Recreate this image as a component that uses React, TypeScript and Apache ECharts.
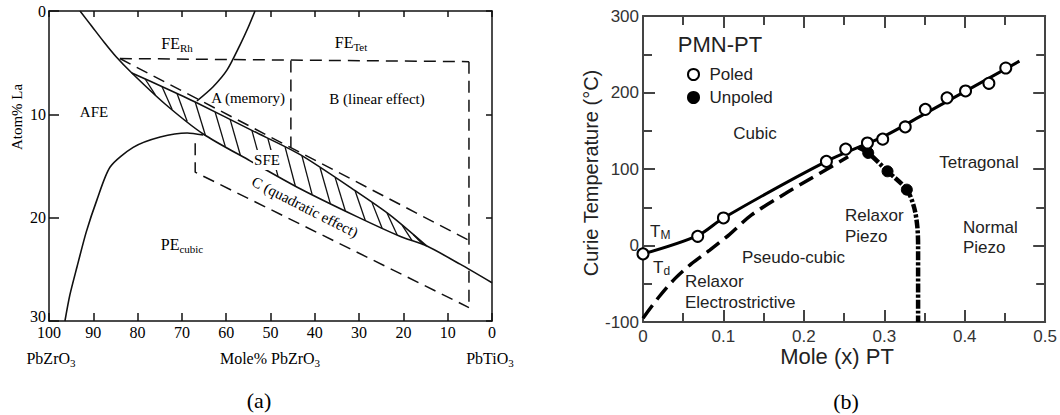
import React, { useEffect, useRef } from "react";
import * as echarts from "echarts";

// ---------- Panel (a): PLZT phase diagram ----------
// [Mole% PbZrO3, Atom% La]
const aLowerBoundary = [
  [93, 0], [90.3, 1.5], [87.6, 3.0], [84.9, 4.4], [81.3, 6.0], [73.8, 9.0], [65.2, 11.9],
  [54.6, 14.5], [43.3, 17.2], [30.5, 19.9], [20.8, 21.8], [14.7, 22.75], [7.2, 24.5], [0, 26.3],
];
const aUpperHatch = [
  [81.3, 6.0], [73.8, 7.45], [67.0, 8.81], [54.0, 11.6], [43.3, 13.9], [30.5, 17.5], [23.0, 19.75], [14.7, 22.75],
];
const aRhTetBoundary = [[53.5, 0], [55.1, 1.65], [56.9, 3.3], [59.8, 5.7], [63.0, 7.35], [66.6, 8.7]];
const aDomeBoundary = [
  [96.4, 30], [95.3, 27.5], [93.7, 24.8], [91.6, 21.4], [89.2, 18.3], [86.2, 15.1], [81.0, 13.2],
  [74.9, 12.2], [68.8, 11.8], [65.2, 12.0],
];
const aDashTop = [[84, 4.6], [5.2, 4.9]];
const aDashRight = [[5.2, 4.9], [5.2, 28.7]];
const aDashUpper = [[84, 4.6], [5.2, 22.2]];
const aDashMid = [[45.4, 4.8], [45.4, 13.2]];
const aDashC = [[67, 12.8], [67, 15.6], [5.2, 28.7]];
const aHatchTops = [78.3, 74.5, 71.1, 67.0, 62.5, 59.1, 54.2, 50.6, 46.7, 42.9, 38.8, 35.4, 30.9, 27.1, 23.7, 20.3, 17.8];

// ---------- Panel (b): PMN-PT ----------
// [Mole (x) PT, Temperature °C]
const bTmLine = [[0, -11], [0.068, 13], [0.1, 36], [0.228, 110], [0.3, 143], [0.35, 172], [0.468, 241]];
const bPoled = [
  [0, -11], [0.068, 12], [0.1, 36], [0.228, 110], [0.252, 126], [0.279, 134], [0.298, 139],
  [0.326, 155], [0.351, 178], [0.378, 193], [0.401, 202], [0.43, 212], [0.451, 232],
];
const bUnpoled = [[0.28, 121], [0.304, 97], [0.328, 73]];
const bUnpoledCurve = [[0.268, 128], [0.28, 121], [0.304, 97], [0.328, 73], [0.337, 50], [0.341, 25], [0.342, 0], [0.342, -100]];
const bTdLine = [[0, -95], [0.02, -67], [0.04, -43], [0.06, -24], [0.083, -6], [0.107, 14], [0.135, 40], [0.177, 68], [0.206, 86], [0.234, 103], [0.255, 116]];

const A_FONT = "Liberation Serif";
const B_FONT = "Liberation Sans";
const A_HATCH_SHIFT = 2.3;

function interp(arr: number[][], m: number): number {
  for (let i = 0; i < arr.length - 1; i++) {
    const [m0, v0] = arr[i];
    const [m1, v1] = arr[i + 1];
    if ((m <= m0 && m >= m1) || (m >= m0 && m <= m1)) {
      const t = m1 === m0 ? 0 : (m - m0) / (m1 - m0);
      return v0 + t * (v1 - v0);
    }
  }
  return arr[arr.length - 1][1];
}

const richA = {
  s: { fontSize: 11, fontFamily: A_FONT, lineHeight: 9, verticalAlign: "bottom", fill: "#000" },
};
const richB = {
  s: { fontSize: 12, fontFamily: B_FONT, lineHeight: 10, verticalAlign: "bottom", fill: "#222" },
};

function txt(text: string, x: number, y: number, o: any = {}) {
  const align = o.align || "center";
  const style: any = {
    text,
    fill: o.color || "#000",
    fontFamily: o.font || A_FONT,
    fontSize: o.size || 15,
    lineHeight: o.lh || 20,
    align,
    verticalAlign: "middle",
    textAlign: align,
    textVerticalAlign: "middle",
    rich: o.rich,
  };
  if (o.bg) {
    style.backgroundColor = o.bg;
    style.padding = [0, 1];
  }
  return {
    type: "text",
    x,
    y,
    rotation: o.rotation || 0,
    silent: true,
    z: 100,
    style,
  };
}

export default function App() {
  const ref = useRef<HTMLDivElement>(null);
  useEffect(() => {
    if (!ref.current) return;
    const chart = echarts.init(ref.current, null, { renderer: "svg" });
    const solidA = { color: "#111", width: 1.6 };
    const dashA = { color: "#111", width: 1.5, type: [12, 7] };
    const lineA = (name: string, data: number[][], style: any, smooth: number = 0.25) => ({
      name,
      type: "line",
      xAxisIndex: 0,
      yAxisIndex: 0,
      data,
      smooth,
      symbol: "none",
      silent: true,
      lineStyle: style,
    });
    const axisA = { lineStyle: { color: "#111", width: 1.5 }, onZero: false };
    const axisB = { lineStyle: { color: "#444", width: 2 }, onZero: false };
    const tickB = { inside: true, length: 12, lineStyle: { color: "#444", width: 2 } };
    const minorB = { show: true, splitNumber: 2, length: 9, lineStyle: { color: "#444", width: 2 } };

    const option: any = {
      animation: false,
      backgroundColor: "#fff",
      grid: [
        { left: 49, top: 11, width: 443, height: 310 },
        { left: 643, top: 16, width: 406, height: 306 },
      ],
      legend: {
        orient: "vertical",
        left: 682,
        top: 61,
        itemWidth: 22,
        itemHeight: 11,
        itemGap: 6,
        selectedMode: false,
        data: ["Poled", "Unpoled"],
        textStyle: { fontFamily: B_FONT, fontSize: 17, color: "#222" },
      },
      xAxis: [
        {
          gridIndex: 0, type: "value", min: 0, max: 100, interval: 10, inverse: true, position: "bottom",
          axisLine: axisA, axisTick: { inside: true, length: 8, lineStyle: { color: "#111", width: 1.5 } },
          axisLabel: { fontFamily: A_FONT, fontSize: 16, lineHeight: 13, color: "#000", margin: 5, showMinLabel: true, showMaxLabel: true },
          splitLine: { show: false },
        },
        {
          gridIndex: 0, type: "value", min: 0, max: 100, interval: 10, inverse: true, position: "top",
          axisLine: axisA, axisTick: { inside: true, length: 6, lineStyle: { color: "#111", width: 1.5 } },
          axisLabel: { show: false }, splitLine: { show: false },
        },
        {
          gridIndex: 1, type: "value", min: 0, max: 0.5, interval: 0.1, position: "bottom",
          axisLine: axisB, axisTick: tickB, minorTick: minorB,
          axisLabel: { fontFamily: B_FONT, fontSize: 17, lineHeight: 14, color: "#333", margin: 7, showMinLabel: true, showMaxLabel: true },
          splitLine: { show: false }, minorSplitLine: { show: false },
        },
        {
          gridIndex: 1, type: "value", min: 0, max: 0.5, interval: 0.1, position: "top",
          axisLine: axisB, axisTick: tickB, minorTick: minorB,
          axisLabel: { show: false }, splitLine: { show: false }, minorSplitLine: { show: false },
        },
      ],
      yAxis: [
        {
          gridIndex: 0, type: "value", min: 0, max: 30, interval: 10, inverse: true, position: "left",
          axisLine: axisA, axisTick: { inside: true, length: 10, lineStyle: { color: "#111", width: 1.5 } },
          axisLabel: {
            fontFamily: A_FONT, fontSize: 16, lineHeight: 12, color: "#000", margin: 3, showMinLabel: true, showMaxLabel: true,
            formatter: (v: number) => (v === 30 ? "{up|30}" : String(v)),
            rich: { up: { fontFamily: A_FONT, fontSize: 16, lineHeight: 12, color: "#000", padding: [0, 0, 10, 0] } },
          },
          splitLine: { show: false },
        },
        {
          gridIndex: 0, type: "value", min: 0, max: 30, interval: 10, inverse: true, position: "right",
          axisLine: axisA, axisTick: { inside: true, length: 6, lineStyle: { color: "#111", width: 1.5 } },
          axisLabel: { show: false }, splitLine: { show: false },
        },
        {
          gridIndex: 1, type: "value", min: -100, max: 300, interval: 100, position: "left",
          axisLine: axisB, axisTick: tickB, minorTick: minorB,
          axisLabel: { fontFamily: B_FONT, fontSize: 17, lineHeight: 14, color: "#333", margin: 4, showMinLabel: true, showMaxLabel: true },
          splitLine: { show: false }, minorSplitLine: { show: false },
        },
        {
          gridIndex: 1, type: "value", min: -100, max: 300, interval: 100, position: "right",
          axisLine: axisB, axisTick: tickB, minorTick: minorB,
          axisLabel: { show: false }, splitLine: { show: false }, minorSplitLine: { show: false },
        },
      ],
      series: [
        lineA("FE/AFE/SFE boundary", aLowerBoundary, solidA),
        lineA("SFE upper boundary", aUpperHatch, solidA),
        lineA("FE Rh/Tet boundary", aRhTetBoundary, solidA),
        lineA("AFE/PE boundary", aDomeBoundary, solidA),
        lineA("dash top", aDashTop, dashA, 0),
        lineA("dash right", aDashRight, dashA, 0),
        lineA("dash upper", aDashUpper, dashA, 0),
        lineA("dash mid", aDashMid, dashA, 0),
        lineA("dash C", aDashC, dashA, 0),
        {
          name: "SFE hatch",
          type: "custom",
          xAxisIndex: 0,
          yAxisIndex: 0,
          silent: true,
          encode: { x: 0, y: 1 },
          data: aHatchTops.map((m) => [m, interp(aUpperHatch, m)]),
          renderItem: (params: any, api: any) => {
            const mTop = api.value(0);
            const mBot = mTop - A_HATCH_SHIFT;
            const p1 = api.coord([mTop, interp(aUpperHatch, mTop)]);
            const p2 = api.coord([mBot, interp(aLowerBoundary, mBot)]);
            return {
              type: "line",
              shape: { x1: p1[0], y1: p1[1], x2: p2[0], y2: p2[1] },
              style: { stroke: "#111", lineWidth: 1.3 },
            };
          },
        },
        {
          name: "T_M",
          type: "line",
          xAxisIndex: 2,
          yAxisIndex: 2,
          data: bTmLine,
          smooth: 0.3,
          symbol: "none",
          silent: true,
          lineStyle: { color: "#000", width: 3 },
        },
        {
          name: "T_d",
          type: "line",
          xAxisIndex: 2,
          yAxisIndex: 2,
          data: bTdLine,
          smooth: 0.3,
          symbol: "none",
          silent: true,
          lineStyle: { color: "#000", width: 3.5, type: [16, 7] },
        },
        {
          name: "Unpoled boundary",
          type: "line",
          xAxisIndex: 2,
          yAxisIndex: 2,
          data: bUnpoledCurve,
          smooth: 0.3,
          symbol: "none",
          silent: true,
          lineStyle: { color: "#000", width: 4.5, type: [9, 2, 3, 2] },
        },
        {
          name: "Unpoled",
          type: "scatter",
          xAxisIndex: 2,
          yAxisIndex: 2,
          data: bUnpoled,
          symbol: "circle",
          symbolSize: 11,
          itemStyle: { color: "#000", borderColor: "#000", borderWidth: 1, opacity: 1 },
          z: 5,
        },
        {
          name: "Poled",
          type: "scatter",
          xAxisIndex: 2,
          yAxisIndex: 2,
          data: bPoled,
          symbol: "circle",
          symbolSize: 11,
          itemStyle: { color: "#fff", borderColor: "#000", borderWidth: 2, opacity: 1 },
          z: 6,
        },
      ],
      graphic: [
        // panel (a)
        txt("FE{s|Rh}", 177, 43, { rich: richA, size: 16 }),
        txt("FE{s|Tet}", 351, 42, { rich: richA, size: 16 }),
        txt("AFE", 94, 112, { size: 15 }),
        txt("A (memory)", 248, 98, { size: 15 }),
        txt("B (linear effect)", 377, 99, { size: 15 }),
        txt("SFE", 267, 160, { size: 15, bg: "#fff" }),
        txt("C (quadratic effect)", 305, 207, { size: 15, rotation: (-27 * Math.PI) / 180 }),
        txt("PE{s|cubic}", 182, 244, { rich: richA, size: 16 }),
        txt("Atom% La", 17, 117, { size: 15, rotation: Math.PI / 2 }),
        txt("PbZrO{s|3}", 51, 358, { rich: richA, size: 16 }),
        txt("Mole% PbZrO{s|3}", 270, 358, { rich: richA, size: 16 }),
        txt("PbTiO{s|3}", 490, 358, { rich: richA, size: 16 }),
        txt("(a)", 259, 400, { size: 22, color: "#000", lh: 26 }),
        // panel (b)
        txt("PMN-PT", 720, 44, { font: B_FONT, size: 22, color: "#222", lh: 26 }),
        txt("Cubic", 755, 133, { font: B_FONT, size: 17, color: "#222" }),
        txt("Tetragonal", 979, 162, { font: B_FONT, size: 17, color: "#222" }),
        txt("Relaxor\nPiezo", 845, 226, { font: B_FONT, size: 17, color: "#222", align: "left", lh: 21 }),
        txt("Normal\nPiezo", 963, 237, { font: B_FONT, size: 17, color: "#222", align: "left", lh: 20 }),
        txt("Pseudo-cubic", 742, 257, { font: B_FONT, size: 17, color: "#222", align: "left" }),
        txt("Relaxor\nElectrostrictive", 685, 292, { font: B_FONT, size: 17, color: "#222", align: "left", lh: 21 }),
        txt("T{s|M}", 650, 231, { font: B_FONT, size: 17, color: "#222", align: "left", rich: richB }),
        txt("T{s|d}", 653, 267, { font: B_FONT, size: 17, color: "#222", align: "left", rich: richB }),
        txt("Curie Temperature (°C)", 591, 173, { font: B_FONT, size: 20, color: "#222", rotation: Math.PI / 2, lh: 24 }),
        txt("Mole (x) PT", 837, 356, { font: B_FONT, size: 22, color: "#222", lh: 24 }),
        txt("(b)", 846, 401, { size: 22, color: "#000", lh: 26 }),
      ],
    };
    chart.setOption(option);
    return () => chart.dispose();
  }, []);
  return (
    <div
      ref={ref}
      style={{ position: "absolute", left: 0, top: 0, width: 1060, height: 415, background: "#fff" }}
    />
  );
}
